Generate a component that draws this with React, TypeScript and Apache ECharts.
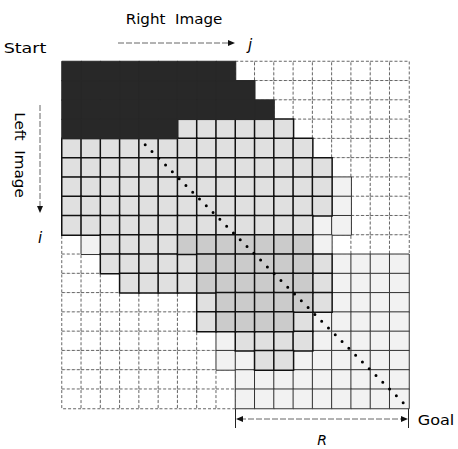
import React, { useEffect, useRef } from "react";
import * as echarts from "echarts";

// 18 x 18 cost grid (columns j = right image, rows i = left image)
const colLabels = ["0","1","2","3","4","5","6","7","8","9","10","11","12","13","14","15","16","17"];
const rowLabels = ["0","1","2","3","4","5","6","7","8","9","10","11","12","13","14","15","16","17"];

// shading level per cell: 0 white, 1 faint, 2 light gray, 3 medium gray, 4 dark
const shadeRows: number[][] = [
  [4,4,4,4,4,4,4,4,4,0,0,0,0,0,0,0,0,0],
  [4,4,4,4,4,4,4,4,4,4,0,0,0,0,0,0,0,0],
  [4,4,4,4,4,4,4,4,4,4,4,0,0,0,0,0,0,0],
  [4,4,4,4,4,4,2,2,2,2,2,2,0,0,0,0,0,0],
  [2,2,2,2,2,2,2,2,2,2,2,2,2,0,0,0,0,0],
  [2,2,2,2,2,2,2,2,2,2,2,2,2,2,0,0,0,0],
  [2,2,2,2,2,2,2,2,2,2,2,2,2,2,1,0,0,0],
  [2,2,2,2,2,2,2,2,2,2,2,2,2,2,1,0,0,0],
  [2,2,2,2,2,2,2,2,2,2,2,2,2,1,1,0,0,0],
  [0,1,2,2,2,2,3,3,3,3,3,3,3,1,0,0,0,0],
  [0,0,2,2,2,2,2,3,3,3,3,3,3,2,1,1,1,1],
  [0,0,0,2,2,2,2,3,3,3,3,3,3,2,1,1,1,1],
  [0,0,0,0,0,0,0,2,3,3,3,3,3,2,1,1,1,1],
  [0,0,0,0,0,0,0,2,3,3,3,3,2,1,1,1,1,1],
  [0,0,0,0,0,0,0,0,1,2,2,2,2,1,1,1,1,1],
  [0,0,0,0,0,0,0,0,1,1,2,2,1,1,1,1,1,1],
  [0,0,0,0,0,0,0,0,0,1,1,1,1,1,1,1,1,1],
  [0,0,0,0,0,0,0,0,0,1,1,1,1,1,1,1,1,1],
];

const levelColors = ["#ffffff", "#f2f2f2", "#e0e0e0", "#cbcbcb", "#282828"];

// optimal path (diagonal) in grid-corner units
const pathStart = [4, 4];
const pathEnd = [18, 18];

function borderFor(level: number) {
  if (level === 0) return { borderColor: "#666", borderWidth: 1, borderType: [3, 2] };
  if (level === 1) return { borderColor: "#333", borderWidth: 1, borderType: "solid" };
  if (level === 4) return { borderColor: "#282828", borderWidth: 1, borderType: "solid" };
  return { borderColor: "#111", borderWidth: 1.5, borderType: "solid" };
}

export default function App() {
  const ref = useRef<HTMLDivElement>(null);
  useEffect(() => {
    if (!ref.current) return;
    const chart = echarts.init(ref.current, undefined, { renderer: "svg" });
    const cells: any[] = [];
    shadeRows.forEach((row, r) =>
      row.forEach((lv, c) => cells.push({ value: [c, r, lv], itemStyle: borderFor(lv) }))
    );
    cells.sort((a, b) => a.value[2] - b.value[2]);

    const txt = (text: string, x: number, y: number, opts: any = {}) => ({
      type: "text",
      x,
      y,
      scaleX: opts.scaleX ?? 1,
      rotation: opts.rotation ?? 0,
      style: {
        text,
        font: opts.font ?? "14px 'DejaVu Sans'",
        fill: "#000",
        align: "center",
        verticalAlign: "middle",
      },
      silent: true,
    });
    const dash = (x1: number, y1: number, x2: number, y2: number) => ({
      type: "line",
      shape: { x1, y1, x2, y2 },
      style: { stroke: "#666", lineWidth: 1, lineDash: [6, 2] },
      silent: true,
    });
    const tri = (pts: number[][]) => ({
      type: "polygon",
      shape: { points: pts },
      style: { fill: "#111" },
      silent: true,
    });
    const solid = (x1: number, y1: number, x2: number, y2: number) => ({
      type: "line",
      shape: { x1, y1, x2, y2 },
      style: { stroke: "#222", lineWidth: 1 },
      silent: true,
    });

    chart.setOption({
      animation: false,
      grid: { left: 62, top: 61.5, width: 347, height: 347 },
      xAxis: [
        { type: "category", data: colLabels, show: false },
        { type: "value", min: 0, max: 18, show: false },
      ],
      yAxis: [
        { type: "category", data: rowLabels, inverse: true, show: false },
        { type: "value", min: 0, max: 18, inverse: true, show: false },
      ],
      visualMap: {
        type: "piecewise",
        show: false,
        dimension: 2,
        seriesIndex: 0,
        pieces: levelColors.map((color, i) => ({ value: i, color })),
      },
      series: [
        {
          type: "heatmap",
          xAxisIndex: 0,
          yAxisIndex: 0,
          data: cells,
          silent: true,
          emphasis: { disabled: true },
        },
        {
          type: "line",
          xAxisIndex: 1,
          yAxisIndex: 1,
          data: [pathStart, pathEnd],
          symbol: "none",
          silent: true,
          lineStyle: { color: "#000", width: 3, type: [0, 9.6], cap: "round", dashOffset: 1 },
        },
      ],
      graphic: [
        txt("Right  Image", 174, 19, { scaleX: 1.08 }),
        txt("Start", 25, 48, { scaleX: 1.25 }),
        dash(118, 43, 229, 43),
        tri([[228, 40], [235, 43], [228, 46]]),
        txt("j", 250, 45, { font: "italic 15px 'DejaVu Sans'" }),
        txt("Left  Image", 20, 155, { scaleX: 1.08, rotation: -Math.PI / 2 }),
        dash(40, 105, 40, 207),
        tri([[37, 206], [40, 213], [43, 206]]),
        txt("i", 40, 238, { font: "italic 15px 'DejaVu Sans'" }),
        solid(235.5, 408, 235.5, 428),
        solid(408.5, 408, 408.5, 428),
        dash(240, 419, 404, 419),
        tri([[236, 419], [243, 416], [243, 422]]),
        tri([[408, 419], [401, 416], [401, 422]]),
        txt("Goal", 436, 420, { scaleX: 1.15 }),
        txt("R", 322, 440, { font: "italic 14px 'DejaVu Sans'" }),
      ],
    });
    return () => chart.dispose();
  }, []);
  return (
    <div
      ref={ref}
      style={{ position: "absolute", left: 0, top: 0, width: 458, height: 449, background: "#fff" }}
    />
  );
}
